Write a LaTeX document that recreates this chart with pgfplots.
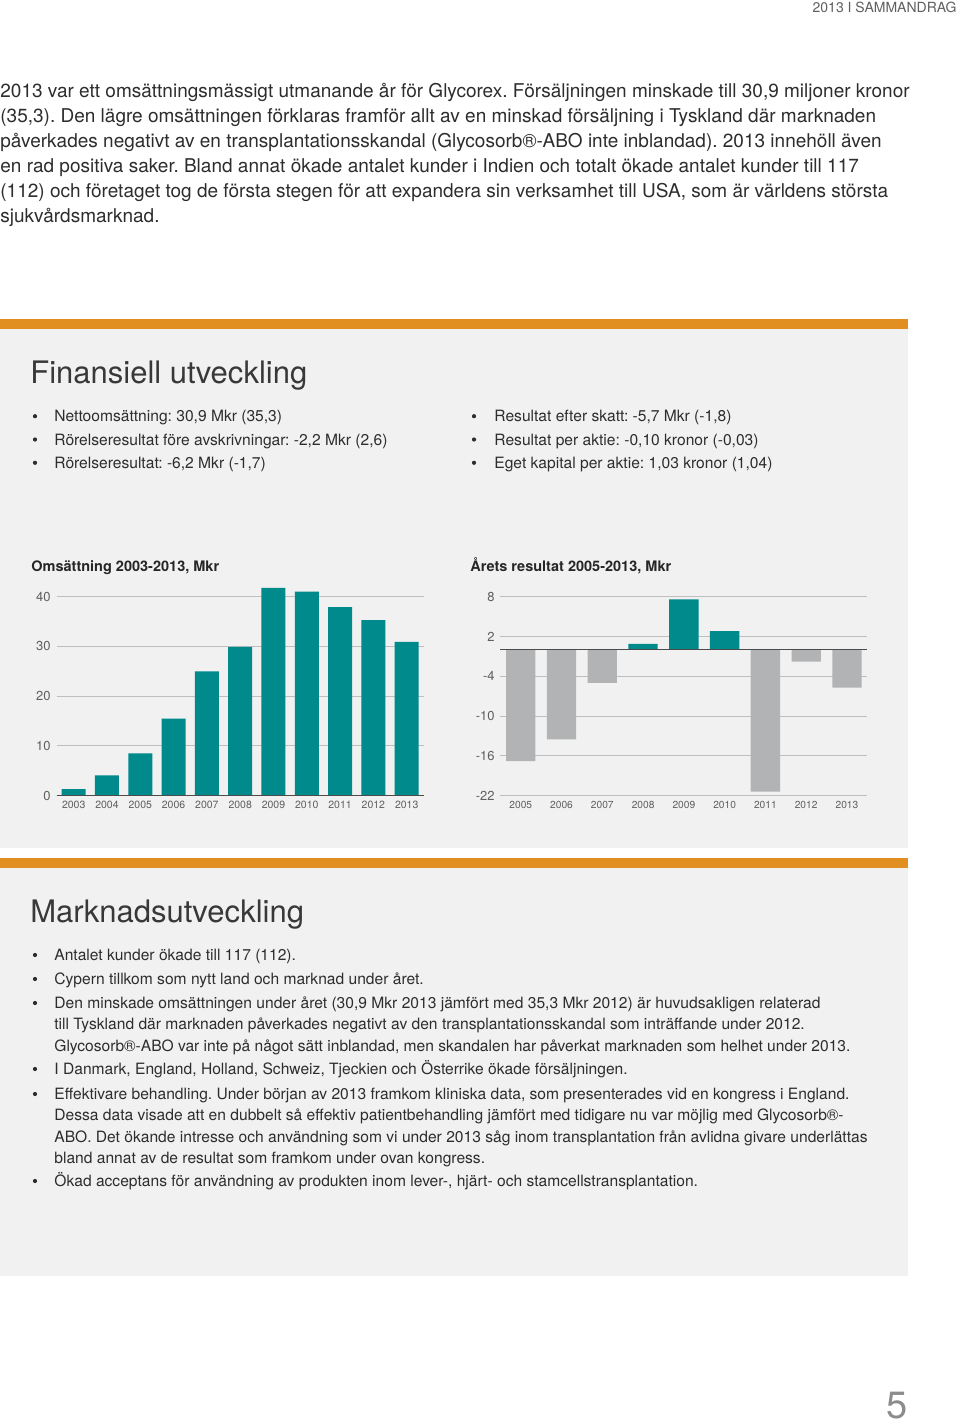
\documentclass[border=0pt]{standalone}
\usepackage{fontspec}
\setmainfont{TeX Gyre Heros}
\usepackage{pgfplots}
\pgfplotsset{compat=1.18}
\definecolor{tealbar}{RGB}{0,138,140}
\definecolor{graybar}{RGB}{178,179,181}
\definecolor{panel}{RGB}{240,241,240}
\definecolor{orangebar}{RGB}{224,143,32}
\definecolor{gridc}{RGB}{190,190,190}
\definecolor{txt}{RGB}{45,45,45}
\definecolor{ticktxt}{RGB}{95,95,95}
\newcommand{\fs}[1]{\fontsize{#1}{#1}\selectfont}
\frenchspacing
\begin{document}
\frenchspacing
\begin{tikzpicture}[x=0.5pt,y=-0.5pt]
\fill[white] (0,0) rectangle (960,1424);
% header
\node[anchor=base east, inner sep=0pt, text=ticktxt, font=\fs{7}] at (957,12) {2013 I SAMMANDRAG};
% intro paragraph
\begin{scope}[every node/.style={anchor=base west, inner sep=0pt, text=txt, font=\fs{9.5}\frenchspacing}]
\node at (0,97) {2013 var ett omsättningsmässigt utmanande år för Glycorex. Försäljningen minskade till 30,9 miljoner kronor};
\node at (0,122) {(35,3). Den lägre omsättningen förklaras framför allt av en minskad försäljning i Tyskland där marknaden};
\node at (0,147) {påverkades negativt av en transplantationsskandal (Glycosorb®-ABO inte inblandad). 2013 innehöll även};
\node at (0,172) {en rad positiva saker. Bland annat ökade antalet kunder i Indien och totalt ökade antalet kunder till 117};
\node at (0,197) {(112) och företaget tog de första stegen för att expandera sin verksamhet till USA, som är världens största};
\node at (0,222) {sjukvårdsmarknad.};
\end{scope}
% panels
\fill[orangebar] (0,319) rectangle (908,329);
\fill[panel] (0,329) rectangle (908,848);
\fill[orangebar] (0,858) rectangle (908,868);
\fill[panel] (0,868) rectangle (908,1276);
% headings
\node[anchor=base west, inner sep=0pt, text=black!78, font=\fs{15.5}] at (30,383.3) {Finansiell utveckling};
\node[anchor=base west, inner sep=0pt, text=black!78, font=\fs{15.5}] at (30,922.3) {Marknadsutveckling};
% bullets panel 1
\begin{scope}[every node/.style={anchor=base west, inner sep=0pt, text=txt, font=\fs{7.8}\frenchspacing}]
\node at (54,421.7) {Nettoomsättning: 30,9 Mkr (35,3)};
\node at (54,445) {Rörelseresultat före avskrivningar: -2,2 Mkr (2,6)};
\node at (54,468.3) {Rörelseresultat: -6,2 Mkr (-1,7)};
\node at (494,421.7) {Resultat efter skatt: -5,7 Mkr (-1,8)};
\node at (494,445) {Resultat per aktie: -0,10 kronor (-0,03)};
\node at (494,468.3) {Eget kapital per aktie: 1,03 kronor (1,04)};
\foreach \yy in {421.7,445,468.3} {
  \fill[txt] (35,\yy-5.5) circle[radius=1.05pt];
  \fill[txt] (474,\yy-5.5) circle[radius=1.05pt];
}
% bullets panel 2
\node at (54,960.5) {Antalet kunder ökade till 117 (112).};
\node at (54,984.5) {Cypern tillkom som nytt land och marknad under året.};
\node at (54,1008.5) {Den minskade omsättningen under året (30,9 Mkr 2013 jämfört med 35,3 Mkr 2012) är huvudsakligen relaterad};
\node at (54,1029.5) {till Tyskland där marknaden påverkades negativt av den transplantationsskandal som inträffande under 2012.};
\node at (54,1051.5) {Glycosorb®-ABO var inte på något sätt inblandad, men skandalen har påverkat marknaden som helhet under 2013.};
\node at (54,1074.5) {I Danmark, England, Holland, Schweiz, Tjeckien och Österrike ökade försäljningen.};
\node at (54,1099.5) {Effektivare behandling. Under början av 2013 framkom kliniska data, som presenterades vid en kongress i England.};
\node at (54,1120.5) {Dessa data visade att en dubbelt så effektiv patientbehandling jämfört med tidigare nu var möjlig med Glycosorb®-};
\node at (54,1142.5) {ABO. Det ökande intresse och användning som vi under 2013 såg inom transplantation från avlidna givare underlättas};
\node at (54,1163.5) {bland annat av de resultat som framkom under ovan kongress.};
\node at (54,1186.5) {Ökad acceptans för användning av produkten inom lever-, hjärt- och stamcellstransplantation.};
\foreach \yy in {960.5,984.5,1008.5,1074.5,1099.5,1186.5} {
  \fill[txt] (35,\yy-5.5) circle[radius=1.05pt];
}
\end{scope}
% chart titles
\node[anchor=base west, inner sep=0pt, text=black!85, font=\fs{7.25}\bfseries] at (31,571.7) {Omsättning 2003-2013, Mkr};
\node[anchor=base west, inner sep=0pt, text=black!85, font=\fs{7.25}\bfseries] at (470,571.7) {Årets resultat 2005-2013, Mkr};
% page number
\node[anchor=base west, inner sep=0pt, text=black!45, font=\fs{19}] at (886,1418.5) {5};
% charts
\begin{scope}[x=1pt,y=1pt]
\begin{axis}[
  at={(28.35pt,-397.85pt)}, anchor=south west, scale only axis,
  width=183.65pt, height=104.475pt,
  xmin=-0.51, xmax=10.52, ymin=0, ymax=42,
  axis line style={draw=none},
  ytick={0,10,20,30,40},
  yticklabels={0,10,20,30,40},
  xtick={0,1,2,3,4,5,6,7,8,9,10},
  xticklabels={2003,2004,2005,2006,2007,2008,2009,2010,2011,2012,2013},
  major tick length=0pt,
  ymajorgrids, grid style={gridc, line width=0.5pt},
  yticklabel style={font=\fs{6.5}, text=ticktxt, inner sep=0pt, xshift=-2.85pt},
  xticklabel style={font=\fs{5.25}, text=ticktxt, inner sep=0pt, yshift=-2.65pt},
  ybar, bar width=12pt, bar shift=0pt,
  clip=false,
]
\addplot[fill=tealbar, draw=none] coordinates {(0,1.3)(1,4.1)(2,8.5)(3,15.5)(4,25.0)(5,29.9)(6,41.8)(7,41.0)(8,37.9)(9,35.3)(10,30.9)};
\draw[black!70, line width=0.6pt] (axis cs:-0.51,0) -- (axis cs:10.52,0);
\end{axis}
\begin{axis}[
  at={(250pt,-397.85pt)}, anchor=south west, scale only axis,
  width=183.65pt, height=99.5pt,
  xmin=-0.51, xmax=8.5, ymin=-22, ymax=8,
  axis line style={draw=none},
  ytick={-22,-16,-10,-4,2,8},
  yticklabels={-22,-16,-10,-4,2,8},
  xtick={0,1,2,3,4,5,6,7,8},
  xticklabels={2005,2006,2007,2008,2009,2010,2011,2012,2013},
  major tick length=0pt,
  ymajorgrids, grid style={gridc, line width=0.5pt},
  yticklabel style={font=\fs{6.5}, text=ticktxt, inner sep=0pt, xshift=-2.5pt},
  xticklabel style={font=\fs{5.1}, text=ticktxt, inner sep=0pt, yshift=-2.65pt},
  ybar, bar width=14.65pt, bar shift=0pt,
  clip=false,
]
\addplot[fill=tealbar, draw=none] coordinates {(3,0.9)(4,7.6)(5,2.8)};
\addplot[fill=graybar, draw=none] coordinates {(0,-16.8)(1,-13.5)(2,-5.0)(6,-21.4)(7,-1.8)(8,-5.7)};
\draw[black!70, line width=0.6pt] (axis cs:-0.51,0) -- (axis cs:8.5,0);
\end{axis}
\end{scope}
\end{tikzpicture}
\end{document}
